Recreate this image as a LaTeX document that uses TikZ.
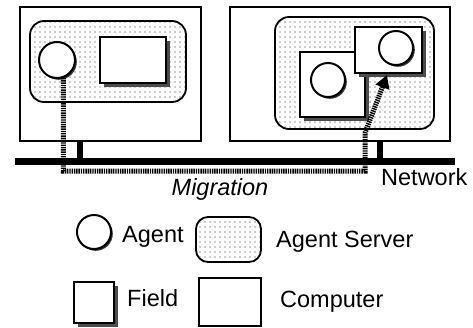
\documentclass[tikz,border=0pt]{standalone}
\usepackage{fontspec}
\setmainfont{Liberation Sans}
\usetikzlibrary{patterns.meta,shadows,arrows.meta}

\tikzset{
  box/.style={draw, line width=2pt, fill=white, inner sep=0pt, rectangle},
  computer/.style={box},
  server/.style={draw, line width=1.8pt, rounded corners=14pt, inner sep=0pt,
    pattern={Dots[distance=5pt, radius=0.6pt]}, pattern color=black!85},
  field/.style={box,
    drop shadow={shadow xshift=4pt, shadow yshift=-4pt, opacity=1, fill=black!70}},
  agent/.style={circle, draw, line width=2pt, fill=white, inner sep=0pt,
    minimum size=34pt,
    drop shadow={shadow xshift=1.8pt, shadow yshift=-1.8pt, opacity=1, fill=black!80}},
  net/.style={line width=7pt},
  stub/.style={line width=6pt},
  migr/.style={line width=5pt, dash pattern=on 1.4pt off 0.9pt},
  label/.style={inner sep=0pt, font=\fontsize{23.5}{27}\selectfont},
}

\begin{document}
\begin{tikzpicture}[x=1pt, y=-1pt]
\useasboundingbox (0,0) rectangle (473,327);

% computers
\node[computer, minimum width=181pt, minimum height=134pt] (c1) at (110.5,74) {};
\node[computer, minimum width=220pt, minimum height=134pt] (c2) at (340,74) {};

% agent servers
\node[server, minimum width=156pt, minimum height=81pt] (s1) at (108,61.5) {};
\node[server, minimum width=159pt, minimum height=112pt] (s2) at (354.5,73) {};

% fields
\node[field, minimum width=66pt, minimum height=46pt] (f1) at (133,60) {};
\node[field, minimum width=65pt, minimum height=65pt] (f2) at (332.5,84.5) {};
\node[field, minimum width=67pt, minimum height=46pt] (f3) at (388.5,50) {};

% agents
\node[agent, minimum size=36pt] (a1) at (57,60) {};
\node[agent] (a2) at (328,80) {};
\node[agent] (a3) at (396,48) {};

% network
\coordinate (nL) at (15,161.5);
\coordinate (nR) at (455,161.5);
\draw[net] (nL) -- (nR);
\coordinate (p1) at (80,161.5);
\coordinate (p2) at (380,161.5);
\draw[stub] (c1.south -| p1) -- (p1);
\draw[stub] (c2.south -| p2) -- (p2);

% migration path
\coordinate (m1) at (365,171);
\coordinate (m2) at (365,133);
\coordinate (tip) at (387,75);
\draw[migr, -{Triangle[length=13pt, width=14pt]}]
  (a1.-70) |- (m1) -- (m2) -- (tip);

\node[label, anchor=base] (mig) at (220,195) {\itshape Migration};
\node[label, anchor=base west] (netl) at (381,185) {Network};

% legend
\node[agent] (la) at (94,232) {};
\node[label, anchor=base west] (lat) at (122,242) {Agent};
\node[server, rounded corners=12pt, minimum width=65pt, minimum height=45pt] (ls) at (228.5,239.5) {};
\node[label, anchor=base west] (lst) at (276,247) {Agent Server};
\node[field, minimum width=40pt, minimum height=41pt] (lf) at (94,302.5) {};
\node[label, anchor=base west] (lft) at (127,306) {Field};
\node[computer, minimum width=62pt, minimum height=48pt] (lc) at (230,301.5) {};
\node[label, anchor=base west] (lct) at (280,307) {Computer};
\end{tikzpicture}
\end{document}
